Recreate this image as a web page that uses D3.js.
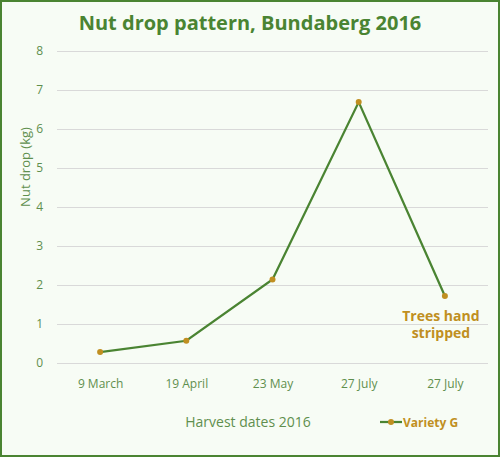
<!DOCTYPE html>
<html><head><meta charset="utf-8">
<script src="https://cdn.jsdelivr.net/npm/d3@7"></script>
<style>body{margin:0;padding:0;background:#fff;}svg{display:block;font-family:"Open Sans",sans-serif;}</style>
</head><body>
<script>
const categories = ["9 March", "19 April", "23 May", "27 July", "27 July "];
const categoryLabels = ["9 March", "19 April", "23 May", "27 July", "27 July"];
const varietyG = [0.28, 0.57, 2.14, 6.69, 1.72];
const yTicks = [0, 1, 2, 3, 4, 5, 6, 7, 8];
const seriesName = "Variety G";
const titleText = "Nut drop pattern, Bundaberg 2016";
const xTitle = "Harvest dates 2016";
const yTitle = "Nut drop (kg)";
const annotation = ["Trees hand", "stripped"];

const W = 500, H = 457;
const green = "#4a8432", gold = "#c08f21", tickCol = "#5f8f4e";
const svg = d3.select("body").append("svg").attr("width", W).attr("height", H);
svg.append("rect").attr("x", 1).attr("y", 1).attr("width", W - 2).attr("height", H - 2)
  .attr("fill", "#f7fcf5").attr("stroke", green).attr("stroke-width", 2);

const x = d3.scalePoint().domain(categories).range([57, 488]).padding(0.5);
const y = d3.scaleLinear().domain([0, 8]).range([363, 51]);

svg.append("text").attr("x", 250).attr("y", 30).attr("text-anchor", "middle")
  .attr("font-size", 20).attr("font-weight", "bold").attr("fill", green).text(titleText);

const gy = svg.append("g").attr("transform", "translate(57,0)")
  .call(d3.axisLeft(y).tickValues(yTicks).tickSize(-431).tickPadding(14).tickFormat(d3.format("d")));
gy.select(".domain").remove();
gy.selectAll(".tick line").attr("stroke", "#d9d9d9").attr("stroke-width", 1);
gy.selectAll(".tick text").attr("fill", tickCol).attr("font-size", 12).attr("font-family", "Open Sans");

const gx = svg.append("g").attr("transform", "translate(0,363)")
  .call(d3.axisBottom(x).tickSize(0).tickPadding(16).tickFormat((d, i) => categoryLabels[i]));
gx.select(".domain").remove();
gx.selectAll(".tick text").attr("fill", tickCol).attr("font-size", 12).attr("font-family", "Open Sans");

svg.append("text").attr("x", 248).attr("y", 427).attr("text-anchor", "middle")
  .attr("font-size", 14).attr("fill", tickCol).text(xTitle);
svg.append("text").attr("transform", "translate(30,167) rotate(-90)").attr("text-anchor", "middle")
  .attr("font-size", 13).attr("fill", tickCol).text(yTitle);

const line = d3.line().x((d, i) => x(categories[i])).y(d => y(d));
svg.append("path").datum(varietyG).attr("d", line).attr("fill", "none")
  .attr("stroke", green).attr("stroke-width", 2.25);
svg.selectAll("circle.pt").data(varietyG).enter().append("circle").attr("class", "pt")
  .attr("cx", (d, i) => x(categories[i])).attr("cy", d => y(d)).attr("r", 3).attr("fill", gold);

const last = varietyG.length - 1;
svg.append("text").attr("x", x(categories[last]) - 4).attr("y", y(varietyG[last]) + 25)
  .attr("text-anchor", "middle").attr("font-size", 14).attr("font-weight", "bold").attr("fill", gold)
  .selectAll("tspan").data(annotation).enter().append("tspan")
  .attr("x", x(categories[last]) - 4).attr("dy", (d, i) => i ? 17 : 0).text(d => d);

const lg = svg.append("g").attr("transform", "translate(380,422)");
lg.append("line").attr("x1", 0).attr("x2", 22).attr("y1", 0).attr("y2", 0).attr("stroke", green).attr("stroke-width", 2.25);
lg.append("circle").attr("cx", 11).attr("cy", 0).attr("r", 3).attr("fill", gold);
lg.append("text").attr("x", 23).attr("y", 5).attr("font-size", 12).attr("font-weight", "bold")
  .attr("fill", gold).text(seriesName);
</script>
</body></html>
